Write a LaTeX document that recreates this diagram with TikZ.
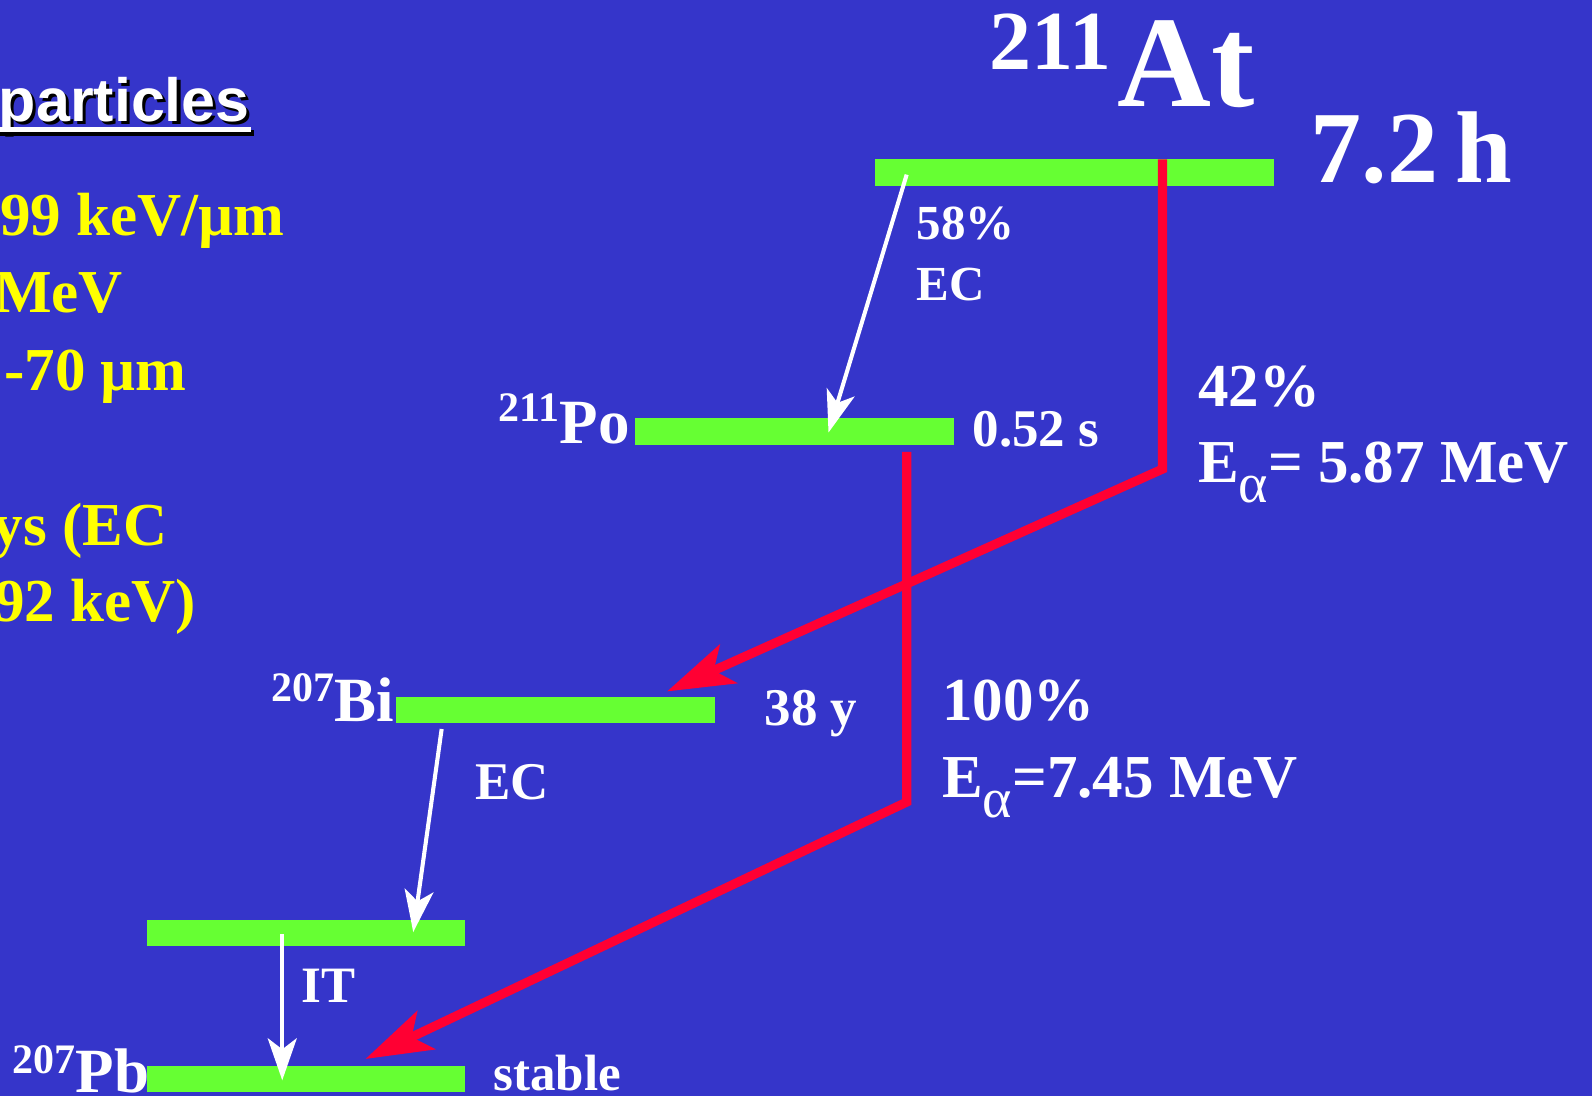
\documentclass[tikz,border=0pt]{standalone}
\usepackage{fontspec}
\setmainfont{Liberation Serif}
\newfontfamily\arialfont{Liberation Sans}
\usetikzlibrary{arrows.meta}
\definecolor{bgblue}{RGB}{53,53,202}
\definecolor{barg}{RGB}{102,255,51}
\definecolor{redline}{RGB}{255,0,51}
\definecolor{yel}{RGB}{255,255,0}
\def\pxu{0.50765pt}
\newcommand\fs[1]{\fontsize{#1}{#1}\selectfont}
\newcommand\alphsub{\raisebox{-10pt}{\fs{28pt}\mdseries α}}
\begin{document}
\begin{tikzpicture}[x=0.50765pt,y=-0.50765pt,
  bar/.style={fill=barg, draw=none, inner sep=0pt, outer sep=0pt, minimum height=26*\pxu, anchor=north west},
  lbl/.style={text=white, inner sep=0pt, outer sep=0pt, anchor=base west},
  ylbl/.style={text=yel, inner sep=0pt, outer sep=0pt, anchor=base east, font=\bfseries\fs{30.5pt}},
  redarrow/.style={draw=redline, line width=9*\pxu, line join=miter, -{Stealth[length=33.5pt, width=21pt, inset=8pt]}},
  whitearrow/.style={draw=white, line width=4*\pxu, -{Stealth[length=21pt, width=14.5pt, inset=5.5pt]}}]
\useasboundingbox (0,0) rectangle (1568,1079);
\fill[bgblue] (0,0) rectangle (1568,1079);
\clip (0,0) rectangle (1568,1079);

% left panel text
\node[lbl, anchor=base east, text=black, font=\arialfont\bfseries\fs{30.5pt}] (partsh) at (249,123) {particles};
\node[lbl, anchor=base east, font=\arialfont\bfseries\fs{30.5pt}] (part) at (246,120) {particles};
\fill[black] (0,128) rectangle (250,134);
\fill[white] (0,125) rectangle (247,130);

\node[ylbl] (y1) at (280,232) {99 keV/µm};
\node[ylbl] (y2) at (121,308) {MeV};
\node[ylbl] (y3) at (184,385) {-70 µm};
\node[ylbl] (y4) at (165,537) {ys (EC};
\node[ylbl] (y5) at (193,612) {92 keV)};

% levels
\node[bar, minimum width=393*\pxu] (at) at (862,157) {};
\node[bar, minimum width=315*\pxu] (po) at (625,412) {};
\node[bar, minimum width=314*\pxu] (bi) at (390,686) {};
\node[bar, minimum width=313*\pxu] (bix) at (145,906) {};
\node[bar, minimum width=313*\pxu] (pb) at (145,1050) {};

% nuclide labels
\node[lbl, font=\bfseries] (atl) at (975,105) {\raisebox{18.5pt}{\fs{42pt}211}\hspace{3pt}\fs{65pt}At};
\node[lbl, font=\bfseries\fs{51pt}] (ath) at (1291,180) {7.2\,h};
\node[lbl, anchor=base east, font=\bfseries] (pol) at (620,437) {\raisebox{11pt}{\fs{21pt}211}\fs{31.5pt}Po};
\node[lbl, font=\bfseries\fs{26.5pt}] (pot) at (958,440) {0.52 s};
\node[lbl, anchor=base east, font=\bfseries] (bil) at (388,711) {\raisebox{10pt}{\fs{21pt}207}\fs{31.5pt}Bi};
\node[lbl, font=\bfseries\fs{26.5pt}] (bit) at (753,715) {38 y};
\node[lbl, anchor=base east, font=\bfseries] (pbl) at (147,1076) {\raisebox{9.5pt}{\fs{21pt}207}\fs{31.5pt}Pb};
\node[lbl, font=\bfseries\fs{25.5pt}] (pbt) at (486,1074) {stable};

% transition labels
\node[lbl, font=\bfseries\fs{24.5pt}] (ec1a) at (903,236) {58\%};
\node[lbl, font=\bfseries\fs{24.5pt}] (ec1b) at (903,296) {EC};
\node[lbl, font=\bfseries\fs{30.5pt}] (a1a) at (1180,400) {42\%};
\node[lbl, font=\bfseries\fs{30.5pt}] (a1b) at (1180,475) {E\alphsub= 5.87 MeV};
\node[lbl, font=\bfseries\fs{30.5pt}] (a2a) at (928,710) {100\%};
\node[lbl, font=\bfseries\fs{30.5pt}] (a2b) at (928,785) {E\alphsub=7.45 MeV};
\node[lbl, font=\bfseries\fs{26.5pt}] (ec2) at (468,787) {EC};
\node[lbl, font=\bfseries\fs{25.5pt}] (it) at (297,987) {IT};

% connectors
\coordinate (r1top) at (1145,157);
\coordinate (r1) at (1145,462);
\coordinate (r1tip) at (657,681);
\draw[redarrow] (r1top) -- (r1) -- (r1tip);

\coordinate (r2top) at (893,445);
\coordinate (r2) at (893,790);
\coordinate (r2tip) at (360,1043);
\draw[redarrow] (r2top) -- (r2) -- (r2tip);

\coordinate (w1s) at (893,172);
\coordinate (w1e) at (816,426);
\draw[whitearrow] (w1s) -- (w1e);
\coordinate (w2s) at (435,718);
\coordinate (w2e) at (407,918);
\draw[whitearrow] (w2s) -- (w2e);
\coordinate (w3s) at (278,920);
\coordinate (w3e) at (278,1064);
\draw[whitearrow] (w3s) -- (w3e);
\end{tikzpicture}
\end{document}
